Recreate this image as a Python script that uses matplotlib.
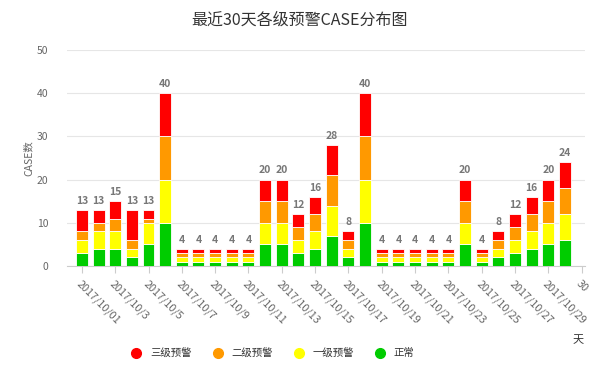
import numpy as np
import matplotlib
matplotlib.use("Agg")
import matplotlib.pyplot as plt
from matplotlib.lines import Line2D

plt.rcParams['font.family'] = ['Noto Sans CJK SC', 'DejaVu Sans']

"""
Data: 30 days of CASE counts per alert level
"""
days = ['2017/10/01', '2017/10/2', '2017/10/3', '2017/10/4', '2017/10/5',
        '2017/10/6', '2017/10/7', '2017/10/8', '2017/10/9', '2017/10/10',
        '2017/10/11', '2017/10/12', '2017/10/13', '2017/10/14', '2017/10/15',
        '2017/10/16', '2017/10/17', '2017/10/18', '2017/10/19', '2017/10/20',
        '2017/10/21', '2017/10/22', '2017/10/23', '2017/10/24', '2017/10/25',
        '2017/10/26', '2017/10/27', '2017/10/28', '2017/10/29', '30']

normal = [3, 4, 4, 2, 5, 10, 1, 1, 1, 1, 1, 5, 5, 3, 4,
          7, 2, 10, 1, 1, 1, 1, 1, 5, 1, 2, 3, 4, 5, 6]
level1 = [3, 4, 4, 2, 5, 10, 1, 1, 1, 1, 1, 5, 5, 3, 4,
          7, 2, 10, 1, 1, 1, 1, 1, 5, 1, 2, 3, 4, 5, 6]
level2 = [2, 2, 3, 2, 1, 10, 1, 1, 1, 1, 1, 5, 5, 3, 4,
          7, 2, 10, 1, 1, 1, 1, 1, 5, 1, 2, 3, 4, 5, 6]
level3 = [5, 3, 4, 7, 2, 10, 1, 1, 1, 1, 1, 5, 5, 3, 4,
          7, 2, 10, 1, 1, 1, 1, 1, 5, 1, 2, 3, 4, 5, 6]

names = ['三级预警', '二级预警', '一级预警', '正常']
colors = ['#ff0000', '#ff9900', '#ffff00', '#00cc00']

fig = plt.figure(figsize=(6, 3.79), dpi=100)
ax = fig.add_axes([0.112, 0.298, 0.863, 0.570])

x = np.arange(len(normal))
width = 0.72

# stack bottom-up: green, yellow, orange, red
stack = [normal, level1, level2, level3]
stack_colors = colors[::-1]
bottom = np.zeros(len(x))
for vals, c in zip(stack, stack_colors):
    ax.bar(x, vals, width, bottom=bottom, color=c, edgecolor='white',
           linewidth=0.6, zorder=3)
    bottom += np.array(vals)

# totals on top
for xi, tot in zip(x, bottom):
    ax.annotate(format(tot, '.0f'), (xi, tot), xytext=(0, 3),
                textcoords='offset points', ha='center', va='bottom',
                fontsize=7.5, weight='bold', color='#777777')

ax.set_ylim(0, 50)
ax.set_xlim(-0.88, 30.2)

# axes style
for s in ['top', 'right', 'left']:
    ax.spines[s].set_visible(False)
ax.spines['bottom'].set_color('#cccccc')
ax.set_axisbelow(True)
ax.yaxis.grid(True, color='#e6e6e6', linewidth=0.8)
ax.set_yticks(np.arange(0, 51, 10))
ax.tick_params(axis='y', left=False, labelsize=7.5, labelcolor='#666666', pad=10)

tick_pos = np.arange(0, 31, 2)
ax.set_xticks(tick_pos)
ax.set_xticklabels([days[i] if i < len(days) else '30' for i in tick_pos],
                   rotation=-45, ha='left', va='top', rotation_mode='anchor',
                   fontsize=7.8, color='#666666')
ax.tick_params(axis='x', length=5, color='#cccccc', pad=4)

ax.set_ylabel('CASE数', fontsize=7.5, color='#666666', labelpad=2)
fig.text(0.5, 0.947, '最近30天各级预警CASE分布图', fontsize=11.5,
         color='#333333', ha='center', va='center')

fig.text(0.963, 0.103, '天', fontsize=8, color='#333333', ha='center', va='center')

handles = [Line2D([], [], marker='o', linestyle='none', markersize=7,
                  markerfacecolor=c, markeredgecolor=c) for c in colors]
fig.legend(handles, names, loc='center', bbox_to_anchor=(0.45, 0.068), ncol=4,
           frameon=False, fontsize=7.5, handletextpad=0.3, columnspacing=1.5,
           labelcolor='#333333')

fig.savefig('out.png', dpi=100)
